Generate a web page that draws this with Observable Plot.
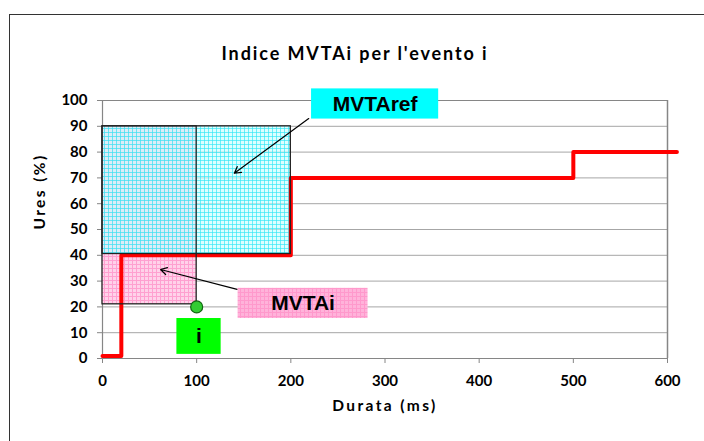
<!DOCTYPE html>
<html><head><meta charset="utf-8">
<script src="https://cdn.jsdelivr.net/npm/d3@7"></script>
<script src="https://cdn.jsdelivr.net/npm/@observablehq/plot@0.6"></script>
<style>
body{margin:0;background:#fff;}
#wrap{position:relative;width:704px;height:441px;overflow:hidden;}
#border{position:absolute;left:9px;top:14px;width:740px;height:480px;border:1.5px solid #333;box-sizing:border-box;}
#chart{position:absolute;left:0;top:0;}
</style></head><body>
<div id="wrap"><div id="border"></div><div id="chart"></div></div>
<script>
// ---- data ----
const title = "Indice MVTAi per l'evento i";
const xLabel = "Durata (ms)";
const yLabel = "Ures (%)";
const xTicks = [0, 100, 200, 300, 400, 500, 600];
const yTicks = [0, 10, 20, 30, 40, 50, 60, 70, 80, 90, 100];
const gridY = [10, 20, 30, 40, 50, 60, 70, 80, 90];

// red step curve (step-after)
const stepX = [0, 20, 200, 500, 610];
const stepY = [1, 40, 70, 80, 80];

// shaded areas
const areaName = ["MVTAi", "MVTAref"];
const areaX1 = [0, 0];
const areaX2 = [100, 200];
const areaY1 = [21, 40.5];
const areaY2 = [90, 90];

// event point i
const pointX = [100];
const pointY = [20];

// label boxes
const labelText = ["MVTAref", "MVTAi", "i"];
const labelX1 = [222, 144, 79];
const labelX2 = [357, 282, 126];
const labelY1 = [92.8, 15.5, 1.6];
const labelY2 = [104.5, 27.2, 15.5];

// arrows
const arrowX1 = [219, 143];
const arrowY1 = [93, 26.8];
const arrowX2 = [140, 61.6];
const arrowY2 = [71.8, 34.5];

// ---- build tables ----
const step = stepX.map((x, i) => ({x, y: stepY[i]}));
const areas = areaName.map((n, i) => ({n, x1: areaX1[i], x2: areaX2[i], y1: areaY1[i], y2: areaY2[i]}));
const labels = labelText.map((t, i) => ({t, x1: labelX1[i], x2: labelX2[i], y1: labelY1[i], y2: labelY2[i]}));
const arrows = arrowX1.map((x, i) => ({x1: x, y1: arrowY1[i], x2: arrowX2[i], y2: arrowY2[i]}));
const pts = pointX.map((x, i) => ({x, y: pointY[i]}));
const fills = {"MVTAi": "url(#pinkGrid)", "MVTAref": "url(#cyanGrid)"};
const boxFills = {"MVTAref": "#00ffff", "MVTAi": "url(#pinkBox)", "i": "#00ff00"};

const svg = Plot.plot({
  width: 704, height: 441,
  marginLeft: 102, marginRight: 37, marginTop: 100, marginBottom: 83,
  x: {domain: [0, 600]},
  y: {domain: [0, 100]},
  style: {fontFamily: "Lato", fontWeight: "bold", color: "black", background: "transparent"},
  marks: [
    Plot.ruleY(gridY, {y: d => d, stroke: "#a6a6a6", strokeWidth: 1}),
    Plot.ruleY([100], {y: d => d, stroke: "#868686", strokeWidth: 1.2}),
    Plot.ruleX([600], {x: d => d, stroke: "#868686", strokeWidth: 1.5}),
    Plot.ruleX([0], {x: d => d, stroke: "#868686", strokeWidth: 1.2}),
    Plot.ruleY([0], {y: d => d, stroke: "#868686", strokeWidth: 1.2}),
    Plot.axisY(yTicks, {tickSize: 5, tickPadding: 10, stroke: "#868686", fill: "black", fontSize: 15, fontWeight: "bold", label: null}),
    Plot.axisX(xTicks, {tickSize: 5, tickPadding: 12, stroke: "#868686", fill: "black", fontSize: 15, fontWeight: "bold", label: null}),
    Plot.rect(areas, {x1: "x1", x2: "x2", y1: "y1", y2: "y2", fill: d => fills[d.n]}),
    Plot.line(step, {x: "x", y: "y", curve: "step-after", stroke: "#ff0000", strokeWidth: 4}),
    Plot.rect(areas, {x1: "x1", x2: "x2", y1: "y1", y2: "y2", fill: "none", stroke: "#222", strokeWidth: 1.3}),
    Plot.dot(pts, {x: "x", y: "y", r: 6, fill: "#33cc33", stroke: "#116611", strokeWidth: 1.2}),
    Plot.arrow(arrows, {x1: "x1", y1: "y1", x2: "x2", y2: "y2", stroke: "black", strokeWidth: 1.2, headLength: 9}),
    Plot.rect(labels, {x1: "x1", x2: "x2", y1: "y1", y2: "y2", fill: d => boxFills[d.t]}),
    Plot.text(labels, {x: d => (d.x1 + d.x2) / 2, y: d => (d.y1 + d.y2) / 2, text: "t", fontSize: 21, fontWeight: "bold", fontFamily: "Liberation Sans", fill: "black"}),
    Plot.text([title], {text: d => d, frameAnchor: "top", dy: -53, dx: -30, fontSize: 18, fontWeight: "bold", fill: "black"}),
    Plot.text([xLabel], {text: d => d, frameAnchor: "bottom", dy: 52, fontSize: 15.5, fontWeight: "bold", fill: "black"}),
    Plot.text([yLabel], {text: d => d, frameAnchor: "left", dx: -62, rotate: -90, fontSize: 15.5, fontWeight: "bold", fill: "black"})
  ]
});

// letter spacing for title and axis labels (Excel-like spaced rendering)
const spacing = {[title]: "1.9px", [xLabel]: "2.4px", [yLabel]: "2.4px"};
svg.querySelectorAll("text").forEach(t => {
  if (spacing[t.textContent] !== undefined) t.style.letterSpacing = spacing[t.textContent];
});

// patterns
const NS = "http://www.w3.org/2000/svg";
function el(name, attrs, parent) {
  const e = document.createElementNS(NS, name);
  for (const k in attrs) e.setAttribute(k, attrs[k]);
  if (parent) parent.appendChild(e);
  return e;
}
const defs = el("defs", {});
function grid(id, bg, bgOp, line, lineOp, size) {
  const p = el("pattern", {id, width: size, height: size, patternUnits: "userSpaceOnUse"}, defs);
  el("rect", {width: size, height: size, fill: bg, "fill-opacity": bgOp}, p);
  el("path", {d: `M0 0.5H${size}M0.5 0V${size}`, stroke: line, "stroke-width": 1, "stroke-opacity": lineOp, fill: "none"}, p);
}
grid("cyanGrid", "#c4ffff", 0.6, "#30e6f6", 0.65, 4);
grid("pinkGrid", "#ffd2ea", 1, "#ffa0d0", 1, 4);
grid("pinkBox", "#ffb3da", 1, "#ff99cc", 1, 4);
svg.insertBefore(defs, svg.firstChild);

document.getElementById("chart").appendChild(svg);
</script>
</body></html>
